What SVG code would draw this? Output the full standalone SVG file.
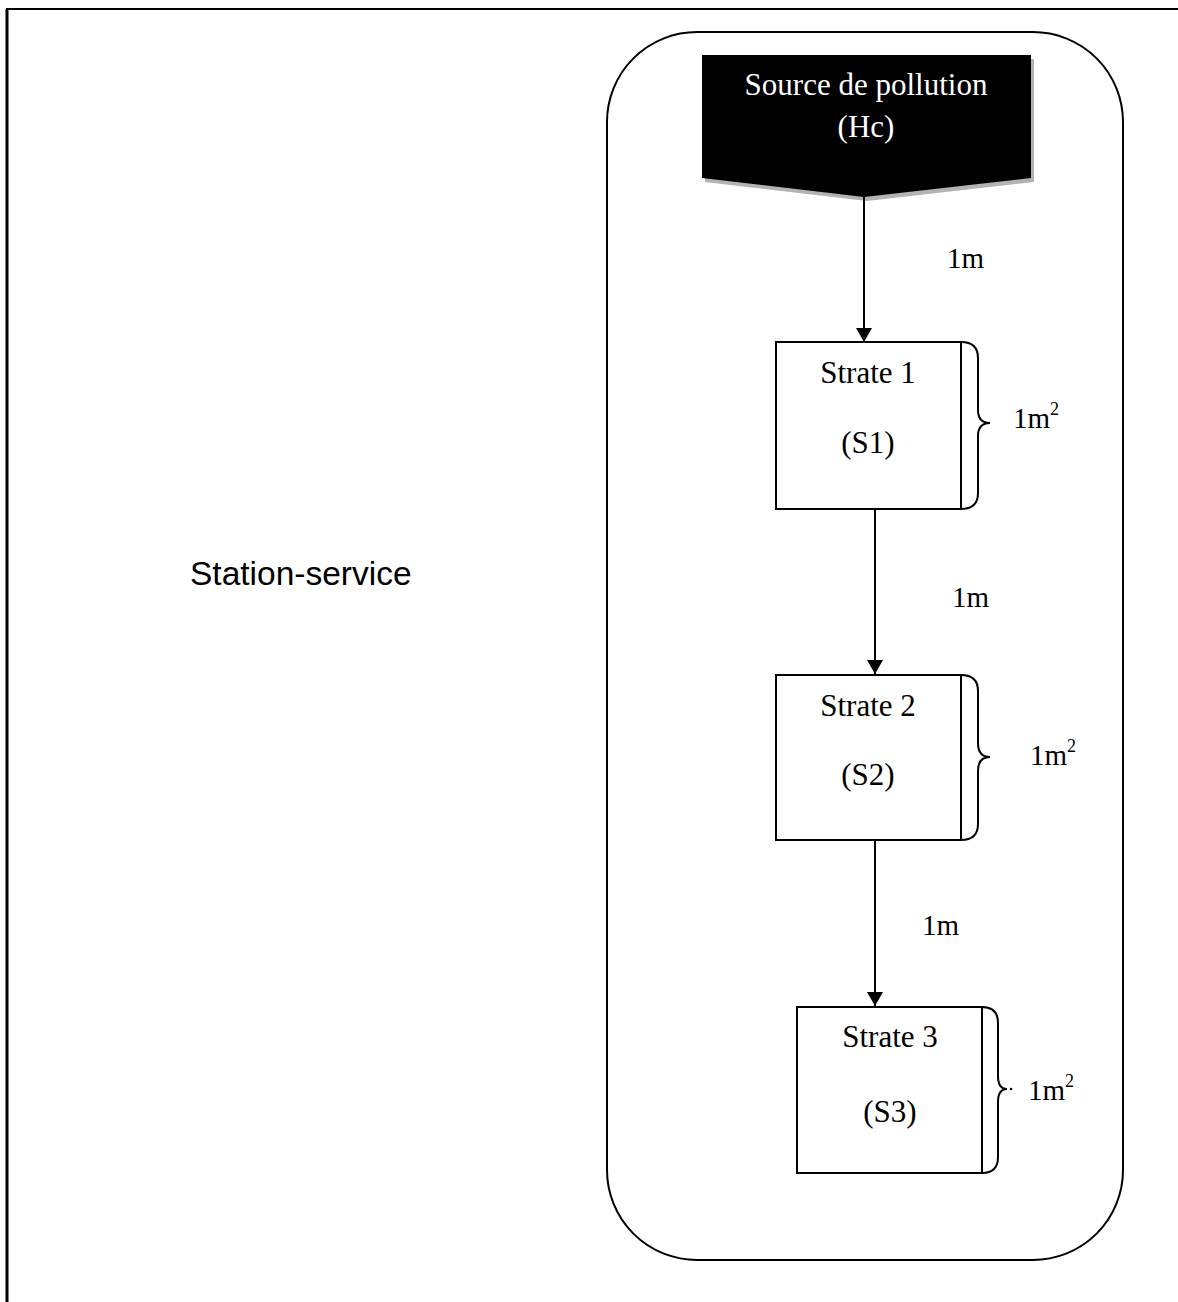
<svg xmlns="http://www.w3.org/2000/svg" width="1178" height="1302" viewBox="0 0 1178 1302">
<defs>
<style>
.ln{fill:none;stroke:#000;stroke-width:2}
.box{fill:#fff;stroke:#000;stroke-width:2}
.t{font-family:"Liberation Serif","Times New Roman",serif;font-size:31px;fill:#000;text-anchor:middle}
.w{fill:#fff}
.lab{font-family:"Liberation Serif","Times New Roman",serif;font-size:29px;fill:#000}
.sup{font-size:18px}
</style>
<marker id="ah" markerWidth="14" markerHeight="16" refX="14" refY="8" orient="auto" markerUnits="userSpaceOnUse">
<path d="M0,0 L14,8 L0,16 Z" fill="#000"/>
</marker>
</defs>
<rect width="1178" height="1302" fill="#fff"/>
<g id="frame">
<path d="M6,9 H1178" class="ln"/>
<path d="M7,9 V1302" stroke="#000" stroke-width="3" fill="none"/>
</g>
<g id="station">
<rect x="607" y="32" width="516" height="1228" rx="90" ry="90" class="ln"/>
<text x="190" y="585" font-family="'Liberation Sans',Arial,sans-serif" font-size="33.5" fill="#000">Station-service</text>
</g>
<g id="source">
<polygon points="705,59 1034,59 1034,182 867,201 705,182" fill="#b3b3b3"/>
<polygon points="702,55 1031,55 1031,178 864,197 702,178" fill="#000"/>
<text x="866" y="95" class="t w" style="fill:#fff">Source de pollution</text>
<text x="866" y="137" class="t w" style="fill:#fff">(Hc)</text>
</g>
<g id="strate1">
<rect x="776" y="342" width="185" height="167" class="box"/>
<path d="M961,342 Q978,342 978,358 V410 Q978,423 990,423 Q978,423 978,436 V493 Q978,509 961,509" class="ln"/>
<text x="868" y="383" class="t">Strate 1</text>
<text x="868" y="453" class="t">(S1)</text>
<text x="1013" y="428" class="lab">1m<tspan class="sup" dy="-13">2</tspan></text>
</g>
<g id="strate2">
<rect x="776" y="675" width="185" height="165" class="box"/>
<path d="M961,675 Q978,675 978,691 V743 Q978,757 990,757 Q978,757 978,771 V824 Q978,840 961,840" class="ln"/>
<text x="868" y="716" class="t">Strate 2</text>
<text x="868" y="785" class="t">(S2)</text>
<text x="1030" y="765" class="lab">1m<tspan class="sup" dy="-13">2</tspan></text>
</g>
<g id="strate3">
<rect x="797" y="1007" width="185" height="166" class="box"/>
<path d="M982,1007 Q998,1007 998,1023 V1076 Q998,1089 1007,1089 Q998,1089 998,1102 V1157 Q998,1173 982,1173" class="ln"/>
<circle cx="1011" cy="1089" r="1.3" fill="#000"/>
<text x="890" y="1047" class="t">Strate 3</text>
<text x="890" y="1122" class="t">(S3)</text>
<text x="1028" y="1100" class="lab">1m<tspan class="sup" dy="-13">2</tspan></text>
</g>
<g id="connectors">
<path d="M864,197 V342" class="ln" marker-end="url(#ah)"/>
<path d="M875,509 V674" class="ln" marker-end="url(#ah)"/>
<path d="M875,840 V1006" class="ln" marker-end="url(#ah)"/>
<text x="947" y="268" class="lab">1m</text>
<text x="952" y="607" class="lab">1m</text>
<text x="922" y="935" class="lab">1m</text>
</g>
</svg>
